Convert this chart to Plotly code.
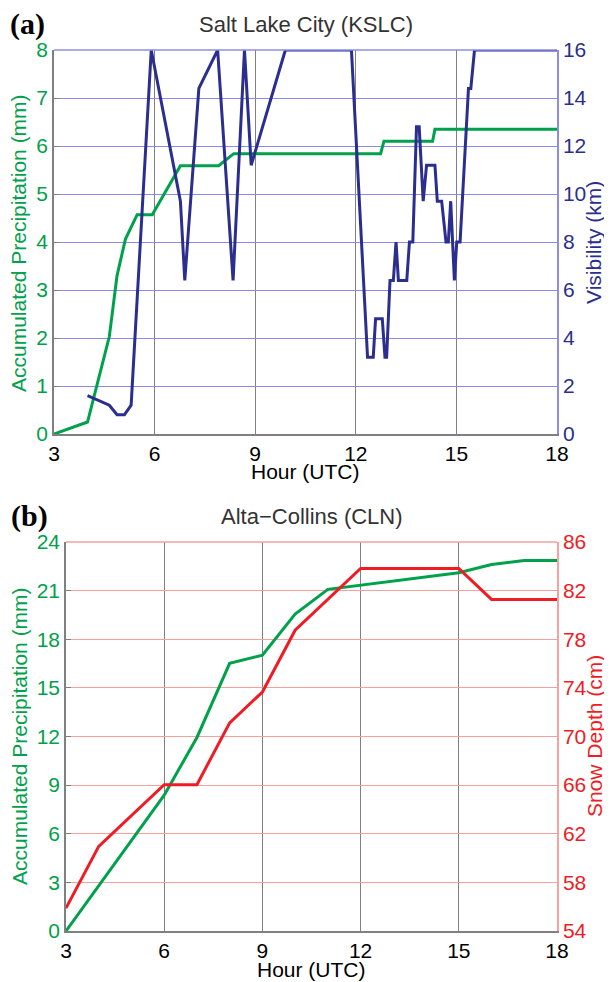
import plotly.graph_objects as go

# ---------------- Data ----------------
# Panel (a) Salt Lake City (KSLC)
hours_precip_a = [3.0, 4.0, 4.65, 4.88, 5.13, 5.48, 5.93, 6.77, 7.91, 8.36, 12.74, 12.84, 14.29, 14.36, 18.0]
precip_a = [0.0, 0.25, 2.03, 3.30, 4.06, 4.57, 4.57, 5.59, 5.59, 5.84, 5.84, 6.10, 6.10, 6.35, 6.35]

hours_vis = [4.0, 4.65, 4.88, 5.1, 5.3, 5.9, 6.77, 6.9, 7.32, 7.88, 8.34, 8.68, 8.88, 9.9, 11.87,
             12.35, 12.52, 12.59, 12.79, 12.87, 12.92, 13.02, 13.12, 13.2, 13.27, 13.52, 13.6, 13.7,
             13.81, 13.89, 14.01, 14.11, 14.36, 14.43, 14.56, 14.69, 14.76, 14.83, 14.94, 15.01,
             15.11, 15.36, 15.43, 15.54, 18.0]
visibility = [1.6, 1.2, 0.8, 0.8, 1.2, 16, 9.7, 6.4, 14.4, 16, 6.4, 16, 11.2, 16, 16,
              3.2, 3.2, 4.8, 4.8, 3.2, 3.2, 6.4, 6.4, 8.0, 6.4, 6.4, 8.0, 8.0,
              12.8, 12.8, 9.7, 11.2, 11.2, 9.7, 9.7, 8.0, 8.0, 9.7, 6.4, 8.0,
              8.0, 14.4, 14.4, 16, 16]

# Panel (b) Alta-Collins (CLN)
hours_precip_b = [3, 6, 7, 8, 9, 10, 11, 12, 15, 16, 17, 18]
precip_b = [0.0, 8.38, 11.94, 16.51, 17.02, 19.56, 21.08, 21.34, 22.10, 22.61, 22.86, 22.86]

hours_snow = [3, 4, 6, 7, 8, 9, 10, 12, 15, 16, 18]
snow_depth = [55.88, 60.96, 66.04, 66.04, 71.12, 73.66, 78.74, 83.82, 83.82, 81.28, 81.28]

x_ticks = [3, 6, 9, 12, 15, 18]
precip_a_ticks = [0, 1, 2, 3, 4, 5, 6, 7, 8]
vis_ticks = [0, 2, 4, 6, 8, 10, 12, 14, 16]
precip_b_ticks = [0, 3, 6, 9, 12, 15, 18, 21, 24]
snow_ticks = [54, 58, 62, 66, 70, 74, 78, 82, 86]

# ---------------- Style ----------------
W, H = 612, 982
OFF = 8  # page body margin of the html page
GREEN = "#00a14b"
BLUE = "#2b2e8f"
RED = "#ee1c25"
BLUE_GRID = "#8c8ce6"
RED_GRID = "#f7a0a0"
GRAY = "#808080"
FONT = "Liberation Sans, Arial, sans-serif"
FS = 21


def px_x(x):
    return (x - OFF) / W


def px_y(y):
    return 1 - (y - OFF) / H


fig = go.Figure()

fig.add_trace(go.Scatter(x=hours_precip_a, y=precip_a, mode="lines",
                         line=dict(color=GREEN, width=3), xaxis="x", yaxis="y", showlegend=False))
fig.add_trace(go.Scatter(x=hours_vis, y=visibility, mode="lines",
                         line=dict(color=BLUE, width=3), xaxis="x", yaxis="y2", showlegend=False))
fig.add_trace(go.Scatter(x=hours_precip_b, y=precip_b, mode="lines",
                         line=dict(color=GREEN, width=3), xaxis="x2", yaxis="y3", showlegend=False))
fig.add_trace(go.Scatter(x=hours_snow, y=snow_depth, mode="lines",
                         line=dict(color=RED, width=3), xaxis="x2", yaxis="y4", showlegend=False))

xcommon = dict(range=[3, 18], tickvals=x_ticks, showgrid=True, gridcolor=GRAY, gridwidth=1,
               showline=True, linecolor=GRAY, linewidth=1.5, ticks="inside", ticklen=5,
               tickcolor=GRAY, tickfont=dict(family=FONT, size=FS, color="black"),
               zeroline=False, fixedrange=True, automargin=False)

ycommon = dict(zeroline=False, showline=True, linewidth=1.5, ticks="inside", ticklen=5,
               automargin=False, fixedrange=True)

fig.update_layout(
    width=W, height=H,
    margin=dict(l=0, r=0, t=0, b=0, autoexpand=False),
    paper_bgcolor="white", plot_bgcolor="white",
    showlegend=False,
    xaxis=dict(domain=[px_x(54), px_x(557)], anchor="y", **xcommon),
    yaxis=dict(domain=[px_y(434), px_y(50)], anchor="x", range=[0, 8], tickvals=precip_a_ticks,
               showgrid=True, gridcolor=BLUE_GRID, gridwidth=1, linecolor=GRAY, tickcolor=GRAY,
               tickfont=dict(family=FONT, size=FS, color=GREEN), **ycommon),
    yaxis2=dict(overlaying="y", side="right", anchor="x", range=[0, 16], tickvals=vis_ticks,
                showgrid=False, linecolor=BLUE_GRID, tickcolor=BLUE_GRID,
                tickfont=dict(family=FONT, size=FS, color=BLUE), **ycommon),
    xaxis2=dict(domain=[px_x(66), px_x(557)], anchor="y3", **xcommon),
    yaxis3=dict(domain=[px_y(931), px_y(542)], anchor="x2", range=[0, 24], tickvals=precip_b_ticks,
                showgrid=True, gridcolor=RED_GRID, gridwidth=1, linecolor=GRAY, tickcolor=GRAY,
                tickfont=dict(family=FONT, size=FS, color=GREEN), **ycommon),
    yaxis4=dict(overlaying="y3", side="right", anchor="x2", range=[54, 86], tickvals=snow_ticks,
                showgrid=False, linecolor=RED_GRID, tickcolor=RED_GRID,
                tickfont=dict(family=FONT, size=FS, color=RED), **ycommon),
)

# top borders
fig.add_shape(type="line", xref="x domain", yref="y domain", x0=0, x1=1, y0=1, y1=1,
              line=dict(color=BLUE_GRID, width=1.5))
fig.add_shape(type="line", xref="x2 domain", yref="y3 domain", x0=0, x1=1, y0=1, y1=1,
              line=dict(color=RED_GRID, width=1.5))

ann = []


def add_text(text, x, y, size=FS, color="black", angle=0, family=FONT, xanchor="center"):
    ann.append(dict(text=text, x=px_x(x), y=px_y(y), xref="paper", yref="paper",
                    showarrow=False, textangle=angle, xanchor=xanchor, yanchor="middle",
                    font=dict(family=family, size=size, color=color)))


# Panel (a)
add_text("<b>(a)</b>", 8, 24, size=30, family="Liberation Serif, Times New Roman, serif", xanchor="left")
add_text("Salt Lake City (KSLC)", 305.5, 25, size=22, color="#333333")
add_text("Hour (UTC)", 305.5, 472, size=FS)
add_text("Accumulated Precipitation (mm)", 19, 243, size=FS, color=GREEN, angle=-90)
add_text("Visibility (km)", 594, 243, size=FS, color=BLUE, angle=-90)

# Panel (b)
add_text("<b>(b)</b>", 9, 516, size=30, family="Liberation Serif, Times New Roman, serif", xanchor="left")
add_text("Alta\u2212Collins (CLN)", 311.5, 517, size=22, color="#333333")
add_text("Hour (UTC)", 311.5, 969, size=FS)
add_text("Accumulated Precipitation (mm)", 19, 736, size=FS, color=GREEN, angle=-90)
add_text("Snow Depth (cm)", 594, 736, size=FS, color=RED, angle=-90)

fig.update_layout(annotations=ann)

fig.write_html("out.html")
